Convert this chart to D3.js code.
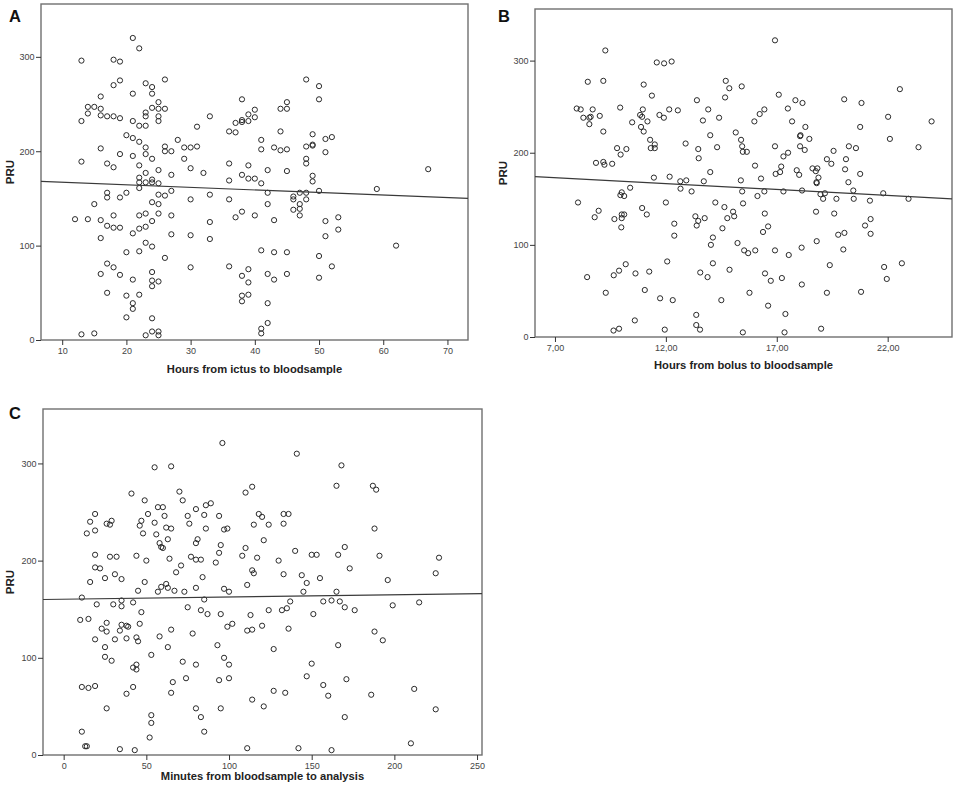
<!DOCTYPE html>
<html>
<head>
<meta charset="utf-8">
<script src="https://cdn.jsdelivr.net/npm/d3@7"></script>
<style>
  body { margin: 0; background: #fff; }
  svg { display: block; }
</style>
</head>
<body>
<script>
// tick values
const pruTicks = [0, 100, 200, 300];
const ictusTicks = [10, 20, 30, 40, 50, 60, 70];
const bolusTicks = [7, 12, 17, 22];
const minutesTicks = [0, 50, 100, 150, 200, 250];

// A: hours from ictus to bloodsample vs PRU
const ictusPoints = [
  [21,320],[22,309],[13,296],[18,297],[19,295],[26,276],[19,275],[18,270],[21,261],[23,272],
  [24,268],[24,261],[16,258],[25,252],[14,247],[15,247],[16,245],[24,246],[25,245],[26,245],
  [14,240],[13,232],[16,238],[17,237],[18,237],[19,235],[23,241],[23,237],[25,237],[25,232],
  [21,232],[22,227],[23,227],[31,226],[33,237],[20,217],[21,214],[22,210],[28,212],[16,203],
  [23,204],[26,205],[26,200],[27,200],[29,204],[30,204],[31,205],[13,189],[19,197],[21,195],
  [23,197],[24,192],[29,192],[17,187],[18,183],[22,185],[25,180],[30,182],[32,177],[23,177],
  [27,175],[22,172],[24,170],[22,167],[23,167],[24,167],[25,166],[22,161],[17,156],[17,151],
  [20,156],[19,151],[25,154],[26,153],[27,158],[30,149],[33,154],[15,144],[24,146],[25,144],
  [12,128],[14,128],[16,127],[18,132],[22,132],[23,134],[25,134],[27,132],[24,126],[33,125],
  [17,121],[18,119],[19,119],[22,118],[23,120],[16,108],[21,113],[27,112],[30,111],[33,107],
  [23,103],[24,99],[20,93],[22,94],[26,87],[17,81],[18,77],[30,77],[16,70],[19,69],
  [24,72],[21,64],[24,63],[25,62],[24,57],[17,50],[20,47],[22,48],[21,39],[21,33],
  [20,24],[24,23],[13,6],[15,7],[23,5],[24,9],[25,9],[25,5],[36,221],[37,220],
  [37,230],[36,187],[36,169],[36,149],[37,130],[36,78],
  [48,276],[50,269],[50,255],[38,255],[45,252],[44,245],[45,245],[40,244],[39,239],[40,236],
  [39,232],[38,233],[38,231],[44,221],[49,218],[51,213],[52,215],[41,212],[41,202],[43,204],
  [44,201],[45,202],[48,205],[49,206],[49,207],[51,199],[48,192],[48,187],[39,185],[42,180],
  [45,179],[38,175],[39,171],[40,171],[41,166],[49,174],[49,168],[67,181],[59,160],[50,158],
  [42,156],[47,156],[48,156],[46,152],[46,149],[42,144],[47,144],[48,149],[46,138],[47,139],
  [47,132],[38,136],[40,132],[43,127],[51,126],[53,130],[53,117],[51,110],[62,100],[41,95],
  [43,93],[45,93],[50,89],[52,78],[39,75],[38,68],[42,70],[43,64],[45,70],[50,66],
  [39,61],[38,47],[39,48],[38,41],[42,39],[42,18],[41,12],[41,7]
];

// B: hours from bolus to bloodsample vs PRU
const bolusPoints = [
  [9.27,311],[8.48,277],[9.18,278],[7.98,248],[8.16,247],[8.70,247],[8.28,238],[8.55,238],[8.61,239],[8.55,231],
  [9.02,240],[9.18,223],[9.94,249],[11.0,274],[11.37,262],[11.59,298],[11.92,297],[12.26,299],[10.96,247],[10.84,241],
  [10.93,239],[10.48,233],[11.17,234],[10.88,228],[11.0,223],[11.71,241],[11.91,238],[12.15,247],[12.54,246],[11.29,214],
  [11.32,205],[11.50,209],[11.50,205],[9.80,205],[10.22,204],[9.96,198],[8.85,189],[9.18,190],[9.23,187],[9.58,188],
  [11.46,173],[12.17,174],[12.89,210],[12.65,169],[12.92,170],[12.66,161],[13.16,158],[10.39,162],[10.01,157],[9.95,154],
  [10.12,153],[8.04,146],[12.0,146],[8.97,137],[8.79,130],[9.68,128],[10.01,133],[10.12,133],[10.01,129],[9.99,119],
  [10.93,140],[11.14,133],[12.38,123],[12.38,110],[13.40,257],[13.91,247],[13.67,235],[14.0,219],[13.46,204],[13.48,194],
  [14.0,179],[13.71,169],[13.33,131],[13.39,121],[13.46,126],[13.75,129],[14.12,108],[14.03,100],[14.12,80],[13.55,70],
  [13.88,65],[12.06,82],[10.19,79],[9.89,72],[9.65,67],[8.45,65],[10.63,69],[11.25,71],[11.05,51],[9.29,48],
  [11.74,42],[12.31,40],[13.37,24],[13.37,13],[13.54,8],[10.60,18],[9.89,9],[9.64,7],[11.95,8],[14.23,146],
  [16.92,322],[14.70,278],[14.86,270],[15.42,272],[14.67,260],[17.09,263],[17.84,257],[18.16,254],[20.04,258],[20.82,254],
  [22.55,269],[14.40,238],[16.23,242],[16.44,247],[15.99,234],[17.50,248],[17.69,234],[18.29,228],[22.02,239],[20.76,228],
  [23.98,234],[15.15,222],[15.39,214],[14.31,206],[15.44,207],[15.47,201],[15.65,201],[16.92,207],[17.30,196],[17.51,200],
  [18.05,218],[18.07,219],[18.05,207],[18.26,203],[18.47,215],[22.10,215],[23.39,206],[20.25,207],[20.57,205],[19.56,202],
  [20.12,193],[19.26,193],[19.46,188],[16.02,186],[17.2,185],[16.95,177],[17.15,179],[17.90,181],[18.01,176],[18.61,183],
  [18.76,180],[18.83,183],[18.88,173],[18.79,168],[18.80,167],[20.08,182],[20.76,177],[20.23,168],[15.38,170],[16.29,172],
  [15.44,158],[16.44,158],[17.30,158],[18.14,159],[16.13,153],[18.97,155],[19.17,156],[19.09,150],[19.69,150],[20.45,159],
  [20.47,150],[21.20,148],[21.80,156],[22.94,150],[15.48,145],[14.64,141],[15.03,136],[15.08,131],[14.77,129],[16.46,134],
  [18.77,136],[19.59,134],[21.23,128],[20.98,121],[14.55,118],[16.38,114],[16.61,120],[15.23,102],[15.53,94],[15.71,91],
  [16.03,94],[16.92,94],[17.54,89],[18.12,97],[18.80,104],[19.77,111],[20.05,113],[20.00,95],[21.23,112],[14.87,73],
  [16.47,69],[16.73,61],[17.23,64],[18.13,57],[19.39,78],[21.84,76],[22.64,80],[21.96,63],[15.77,48],[19.26,48],
  [20.80,49],[14.50,40],[16.61,34],[17.39,25],[15.47,5],[17.35,5],[19.0,9]
];

// C: minutes from bloodsample to analysis vs PRU
const minutesPoints = [
  [96,321],[55,296],[65,297],[41,269],[70,271],[49,262],[72,262],[57,255],[60,255],[80,253],
  [86,257],[89,259],[110,270],[19,248],[16,240],[14,228],[19,231],[26,238],[29,241],[28,237],
  [51,248],[47,241],[46,236],[48,228],[55,239],[61,246],[56,227],[62,234],[65,233],[63,222],
  [58,218],[59,214],[60,213],[75,246],[76,238],[81,222],[80,218],[85,247],[86,233],[94,246],
  [97,232],[99,233],[95,216],[94,208],[92,198],[110,213],[108,205],[19,206],[19,193],[22,192],
  [28,204],[32,204],[31,186],[35,181],[25,182],[16,178],[44,205],[50,200],[49,178],[45,169],
  [64,202],[71,195],[68,188],[77,204],[80,201],[83,201],[84,183],[62,176],[59,173],[63,172],
  [57,168],[67,169],[73,168],[80,172],[97,171],[100,168],[111,175],[11,162],[20,155],[30,155],
  [35,159],[35,153],[42,157],[47,147],[85,160],[83,149],[87,145],[75,152],[95,145],[10,139],
  [15,140],[23,130],[26,136],[26,127],[19,119],[31,119],[34,128],[35,134],[38,133],[39,132],
  [38,120],[44,121],[45,117],[46,135],[58,122],[65,129],[63,111],[78,125],[99,132],[102,135],
  [111,128],[93,113],[25,111],[25,101],[29,97],[53,103],[42,90],[44,93],[44,88],[72,96],
  [80,93],[97,100],[100,93],[100,79],[94,77],[74,79],[66,75],[65,64],[11,70],[15,69],
  [19,71],[42,70],[38,63],[26,48],[53,41],[53,33],[52,18],[80,48],[83,39],[85,24],
  [95,48],[11,24],[13,9],[14,9],[34,6],[43,5],[111,7],
  [141,310],[168,298],[165,277],[187,277],[189,273],[114,276],[118,248],[120,245],[115,237],[124,237],
  [133,248],[136,248],[133,238],[121,221],[188,233],[117,203],[114,190],[115,187],[130,200],[140,210],
  [150,206],[153,206],[166,206],[170,214],[173,192],[191,205],[227,203],[225,187],[196,180],[133,186],
  [144,185],[147,177],[155,182],[145,168],[165,168],[157,158],[162,159],[167,158],[170,152],[176,149],
  [199,154],[215,157],[137,158],[135,151],[132,149],[124,149],[113,144],[151,145],[120,133],[114,129],
  [136,130],[188,127],[193,118],[127,109],[166,113],[150,94],[147,81],[157,72],[171,78],[127,66],
  [134,64],[160,61],[186,62],[212,68],[114,57],[121,50],[170,39],[225,47],[142,7],[162,5],
  [210,12]
];

// fit lines (ends of the regression line, in data units)
const ictusFit = [[6.7,168],[73.2,150]];
const bolusFit = [[6.1,174],[24.9,150]];
const minutesFit = [[-12.5,160],[253,166]];

const panelLetters = ['A', 'B', 'C'];
const xTitles = ['Hours from ictus to bloodsample', 'Hours from bolus to bloodsample', 'Minutes from bloodsample to analysis'];
const yTitle = 'PRU';

const font = '"Liberation Sans", Arial, sans-serif';

const svg = d3.select('body')
  .append('svg')
  .attr('width', 957)
  .attr('height', 795);

const panels = [
  {letter: panelLetters[0], title: xTitles[0], points: ictusPoints, fit: ictusFit, ticks: ictusTicks,
   xDomain: [6.7, 73.2], fmt: d => d,
   left: 41, top: 4, right: 468, bottom: 340, titleGap: 33, letterX: 9, letterY: 22, yTitleX: 14},
  {letter: panelLetters[1], title: xTitles[1], points: bolusPoints, fit: bolusFit, ticks: bolusTicks,
   xDomain: [6.1, 24.9], fmt: d => d.toFixed(2).replace('.', ','),
   left: 535, top: 9, right: 952, bottom: 337, titleGap: 32, letterX: 498, letterY: 22, yTitleX: 507},
  {letter: panelLetters[2], title: xTitles[2], points: minutesPoints, fit: minutesFit, ticks: minutesTicks,
   xDomain: [-12.5, 253], fmt: d => d,
   left: 43, top: 409, right: 482, bottom: 755, titleGap: 24.5, letterX: 9, letterY: 419, yTitleX: 14}
];

panels.forEach(drawPanel);

function drawPanel(p) {
  const x = d3.scaleLinear().domain(p.xDomain).range([p.left, p.right]);
  const y = d3.scaleLinear().domain([0, 356]).range([p.bottom, p.top]);
  const g = svg.append('g');

  // frame
  g.append('rect')
    .attr('x', p.left).attr('y', p.top)
    .attr('width', p.right - p.left).attr('height', p.bottom - p.top)
    .attr('fill', 'none')
    .attr('stroke', '#707070')
    .attr('stroke-width', 1.4);

  // Y axis
  const yAxis = d3.axisLeft(y).tickValues(pruTicks).tickSize(5).tickPadding(1.5).tickSizeOuter(0);
  const ya = g.append('g')
    .attr('transform', `translate(${p.left},0)`)
    .call(yAxis);
  ya.select('.domain').remove();

  // X axis
  const xAxis = d3.axisBottom(x).tickValues(p.ticks).tickFormat(p.fmt).tickSize(5).tickPadding(3).tickSizeOuter(0);
  const xa = g.append('g')
    .attr('transform', `translate(0,${p.bottom})`)
    .call(xAxis);
  xa.select('.domain').remove();

  [ya, xa].forEach(a => {
    a.selectAll('line').attr('stroke', '#333').attr('stroke-width', 1);
    a.selectAll('text')
      .attr('fill', '#444')
      .attr('font-family', font)
      .attr('font-size', 9);
  });

  // points
  g.append('g')
    .selectAll('circle')
    .data(p.points)
    .join('circle')
    .attr('cx', d => x(d[0]))
    .attr('cy', d => y(d[1]))
    .attr('r', 2.6)
    .attr('fill', 'none')
    .attr('stroke', '#2a2a2a')
    .attr('stroke-width', 1);

  // regression line
  g.append('line')
    .attr('x1', x(p.fit[0][0])).attr('y1', y(p.fit[0][1]))
    .attr('x2', x(p.fit[1][0])).attr('y2', y(p.fit[1][1]))
    .attr('stroke', '#3a3a3a')
    .attr('stroke-width', 1.2);

  // x title
  g.append('text')
    .attr('x', (p.left + p.right) / 2)
    .attr('y', p.bottom + p.titleGap)
    .attr('text-anchor', 'middle')
    .attr('font-family', font)
    .attr('font-weight', 'bold')
    .attr('font-size', 11.2)
    .attr('fill', '#222')
    .text(p.title);

  // y title
  g.append('text')
    .attr('transform', `translate(${p.yTitleX},${(p.top + p.bottom) / 2}) rotate(-90)`)
    .attr('text-anchor', 'middle')
    .attr('font-family', font)
    .attr('font-weight', 'bold')
    .attr('font-size', 11.5)
    .attr('fill', '#222')
    .text(yTitle);

  // panel letter
  g.append('text')
    .attr('x', p.letterX)
    .attr('y', p.letterY)
    .attr('font-family', font)
    .attr('font-weight', 'bold')
    .attr('font-size', 16.5)
    .attr('fill', '#111')
    .text(p.letter);
}
</script>
</body>
</html>
